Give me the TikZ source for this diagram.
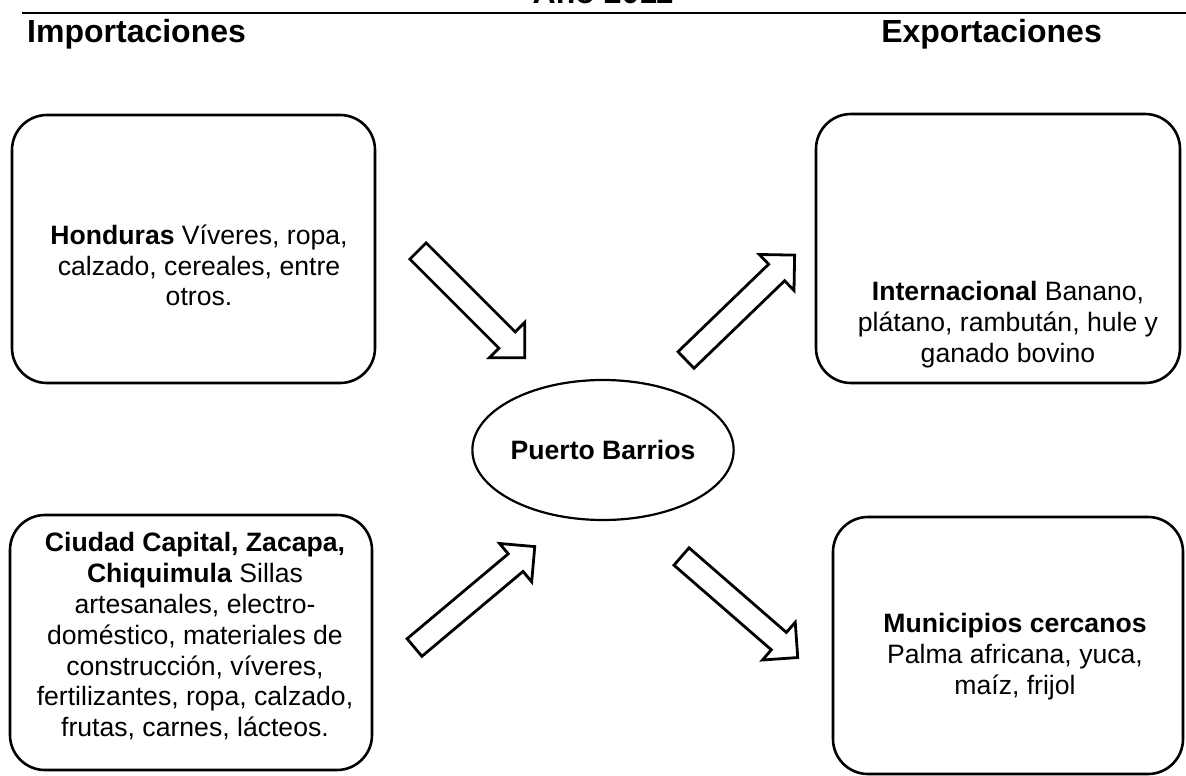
\documentclass[tikz,border=0pt]{standalone}
\usepackage{fontspec}
\setmainfont{Liberation Sans}
\usetikzlibrary{shapes.geometric}
\begin{document}
\begin{tikzpicture}[x=1pt,y=-1pt]
	\tikzstyle{every node}=[inner sep=0pt]
	\tikzstyle{caja}=[draw,line width=2.6pt,rounded corners=35pt]
	\tikzstyle{texto}=[align=center,anchor=north,font=\fontsize{26.6}{30.8}\selectfont]
	\tikzstyle{titulo}=[font=\bfseries\fontsize{32}{36}\selectfont]
	\tikzstyle{flecha}=[draw,line width=2.8pt,line join=miter]
	\tikzset{pics/bloque/.style={code={\draw[flecha] (0,-11.5) -- ({#1-25},-11.5) -- ({#1-25},-25) -- (#1,0) -- ({#1-25},25) -- ({#1-25},11.5) -- (0,11.5) -- cycle;}}}
	\useasboundingbox (0,0) rectangle (1186,776);
	% encabezado
	\node[titulo,anchor=base] (anio) at (603,4) {\textbf{Año 2011}};
	\coordinate (lineaIzq) at (22,13);
	\coordinate (lineaDer) at (1186,13);
	\draw[line width=2pt] (lineaIzq) -- (lineaDer);
	\node[titulo,anchor=base west] (import) at (27,43) {\textbf{Importaciones}};
	\node[titulo,anchor=base east] (export) at (1102,43) {\textbf{Exportaciones}};
	% cajas
	\node[caja,minimum width=363pt,minimum height=268pt] (honduras) at (193.5,249) {};
	\node[caja,minimum width=364pt,minimum height=269pt] (internacional) at (998,248.5) {};
	\node[caja,minimum width=362pt,minimum height=255pt] (ciudad) at (191,642.5) {};
	\node[caja,minimum width=350pt,minimum height=257pt] (municipios) at (1008,645.5) {};
	\node[texto] (hondurasTxt) at (199,224.5) {\textbf{Honduras} Víveres, ropa,\\calzado, cereales, entre\\otros.};
	\node[texto] (internacionalTxt) at (1008,281.5) {\textbf{Internacional} Banano,\\plátano, rambután, hule y\\ganado bovino};
	\node[texto] (ciudadTxt) at (195,532.5) {\textbf{Ciudad Capital, Zacapa,}\\\textbf{Chiquimula} Sillas\\artesanales, electro-\\doméstico, materiales de\\construcción, víveres,\\fertilizantes, ropa, calzado,\\frutas, carnes, lácteos.};
	\node[texto] (municipiosTxt) at (1015,613.5) {\textbf{Municipios cercanos}\\Palma africana, yuca,\\maíz, frijol};
	% centro
	\node[draw,ellipse,line width=2.2pt,minimum width=240pt,minimum height=140pt,font=\bfseries\fontsize{26.6}{30.8}\selectfont] (puerto) at (603,450) {Puerto Barrios};
	% flechas
	\pic[rotate=-45] at (418,251) {bloque=151};
	\pic[rotate=44] at (686,360) {bloque=151};
	\pic[rotate=40] at (414.5,647.5) {bloque=157};
	\pic[rotate=-41] at (681.5,556.5) {bloque=154};
\end{tikzpicture}
\end{document}
